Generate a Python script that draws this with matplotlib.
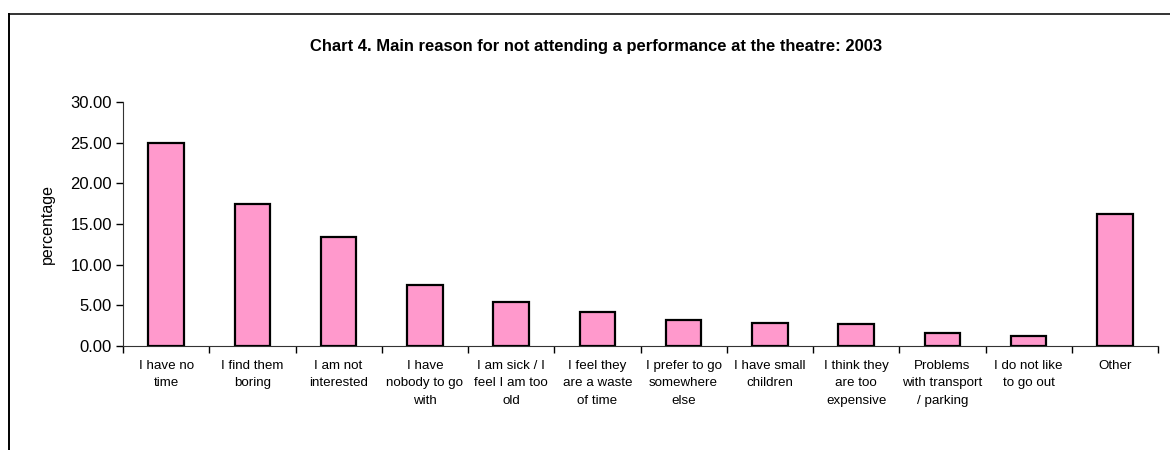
import numpy as np
import matplotlib
matplotlib.use('Agg')
import matplotlib.pyplot as plt
from matplotlib.lines import Line2D
from matplotlib.ticker import FormatStrFormatter, FixedLocator

plt.rcParams['font.family'] = ['Liberation Sans', 'DejaVu Sans']

# ===== data =====
categories = ['I have no\ntime', 'I find them\nboring', 'I am not\ninterested',
              'I have\nnobody to go\nwith', 'I am sick / I\nfeel I am too\nold',
              'I feel they\nare a waste\nof time', 'I prefer to go\nsomewhere\nelse',
              'I have small\nchildren', 'I think they\nare too\nexpensive',
              'Problems\nwith transport\n/ parking', 'I do not like\nto go out', 'Other']
values = [24.9, 17.5, 13.4, 7.45, 5.4, 4.2, 3.15, 2.85, 2.75, 1.65, 1.2, 16.2]
y_ticks = [0, 5, 10, 15, 20, 25, 30]
title = 'Chart 4. Main reason for not attending a performance at the theatre: 2003'

fig = plt.figure(figsize=(11.7, 4.5), dpi=100)
ax = fig.add_axes([123 / 1170, 1 - 346 / 450, 1035 / 1170, 244 / 450])

x = np.arange(len(values))
ax.bar(x, values, width=0.41, color='#FF99CC', edgecolor='black', linewidth=1.6, zorder=3)

ax.set_xlim(-0.5, len(values) - 0.5)
ax.set_ylim(0, 30)
ax.set_yticks(y_ticks)
ax.yaxis.set_major_formatter(FormatStrFormatter('%.2f'))
ax.tick_params(axis='y', labelsize=12, length=5, width=1, direction='out', pad=3)

# category labels centred, tick marks between categories
ax.set_xticks(x)
ax.set_xticklabels(categories, fontsize=9.6, linespacing=1.62, va='top')
ax.tick_params(axis='x', which='major', length=0, pad=10)
ax.xaxis.set_minor_locator(FixedLocator(np.arange(-0.5, len(values), 1.0)))
ax.tick_params(axis='x', which='minor', length=5, width=1, direction='out')

for side in ['top', 'right']:
    ax.spines[side].set_visible(False)
ax.spines['left'].set_color('#333333')
ax.spines['bottom'].set_color('#333333')

ax.set_ylabel('percentage', fontsize=11.5, labelpad=11)

fig.text(596 / 1170, 1 - 46 / 450, title, ha='center', va='center',
         fontsize=11.9, fontweight='bold')

# outer chart frame (cropped on right and bottom)
fig.add_artist(Line2D([8.5 / 1170, 1.0], [1 - 14 / 450, 1 - 14 / 450],
                      transform=fig.transFigure, color='#333333', lw=1.4))
fig.add_artist(Line2D([8.5 / 1170, 8.5 / 1170], [0, 1 - 14 / 450],
                      transform=fig.transFigure, color='black', lw=1.4))

fig.savefig('out.png', dpi=100)
